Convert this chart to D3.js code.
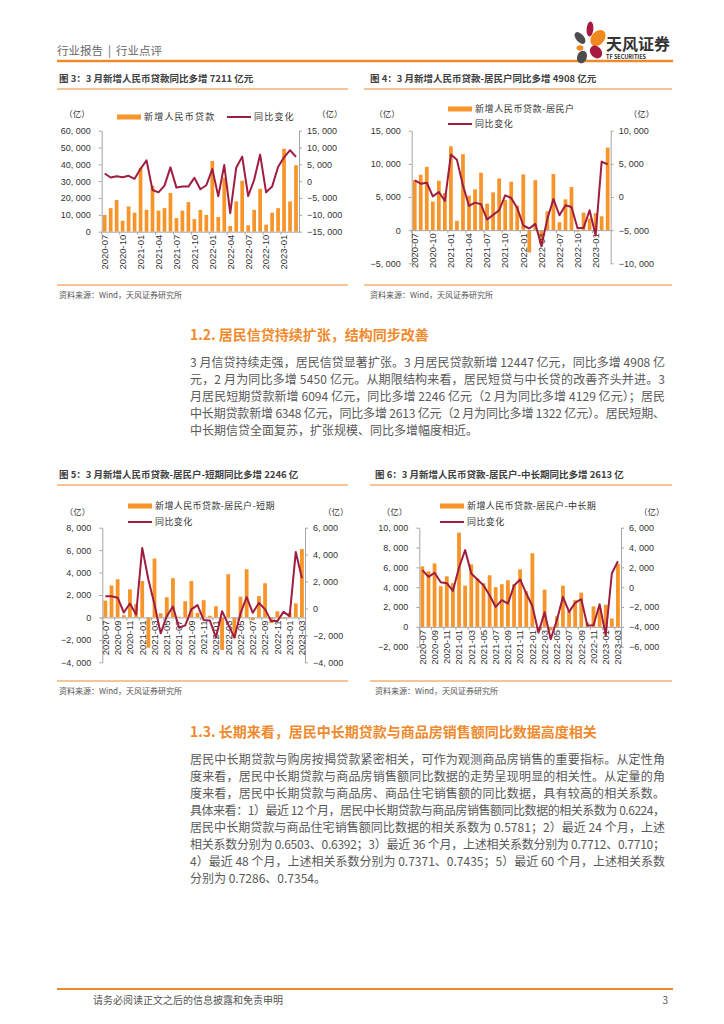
<!DOCTYPE html>
<html>
<head>
<meta charset="utf-8">
<script src="https://cdn.jsdelivr.net/npm/d3@7"></script>
<style>
  body { margin: 0; background: #fff; }
  svg { display: block; }
  text { font-family: "Noto Sans CJK SC", "Noto Sans", sans-serif; }
  .tick text { font-family: "Liberation Sans", Arial, sans-serif; }
</style>
</head>
<body>
<svg id="page" width="724" height="1024"></svg>
<script>
// ---- data ----
const months = ["2020-07","2020-08","2020-09","2020-10","2020-11","2020-12",
  "2021-01","2021-02","2021-03","2021-04","2021-05","2021-06","2021-07","2021-08","2021-09","2021-10","2021-11","2021-12",
  "2022-01","2022-02","2022-03","2022-04","2022-05","2022-06","2022-07","2022-08","2022-09","2022-10","2022-11","2022-12",
  "2023-01","2023-02","2023-03"];
const labelsQ = ["2020-07","2020-10","2021-01","2021-04","2021-07","2021-10","2022-01","2022-04","2022-07","2022-10","2023-01"];
const labelsB = ["2020-07","2020-09","2020-11","2021-01","2021-03","2021-05","2021-07","2021-09","2021-11",
  "2022-01","2022-03","2022-05","2022-07","2022-09","2022-11","2023-01","2023-03"];

// 图3 新增人民币贷款 / 同比变化
const loansTotal = [9900, 14000, 18800, 6500, 15000, 11300, 38000, 13000, 27300, 12500, 14000, 23000, 8100, 12500, 17600, 7500, 12900, 10000,
  42000, 8700, 32000, 3400, 18000, 30300, 3800, 13000, 25500, 4200, 11300, 14000, 49300, 18000, 39500];
const loansTotalYoy = [2300, 1100, 1500, 1200, 1600, 700, 3700, 6200, -2600, -3300, -1300, 4100, -1900, -1600, -1600, 1000, -2400, -1200,
  3600, -4500, 4800, -9500, 4000, 7300, -4400, 400, 7900, -3300, -1600, 4200, 7100, 9200, 7211];

// 图4 居民户
const loansHh = [7550, 8350, 9550, 4300, 7450, 5600, 12650, 1400, 11450, 5200, 6150, 8650, 4000, 5700, 7800, 4550, 7300, 3700,
  8400, -3370, 7540, -2170, 2850, 8450, 1200, 4650, 6500, -200, 2650, 1750, 2570, 2090, 12447];
const loansHhYoy = [2500, 2000, 2150, 100, 750, -600, 6400, 5600, 1750, -1350, -850, -1100, -3400, -2700, -2000, 250, -150, -1650,
  -4300, -4750, -4050, -7400, -3300, -300, -2750, -1250, -1500, -4700, -4650, -2000, -5800, 5350, 4908];

// 图5 居民户-短期
const loansShort = [1500, 2850, 3400, 200, 2500, 1200, 3250, -2700, 5250, 370, 1800, 3500, 70, 1450, 3250, 400, 1540, 150,
  1000, -2900, 3850, -1840, 1850, 4300, -250, 1900, 3050, -500, 550, -100, 430, 1250, 6094];
const loansShortYoy = [900, 900, 800, -300, 370, -450, 4500, 2150, 300, -1850, -570, 150, -1430, -1260, -70, 250, -860, -890,
  -2170, -200, -1180, -2170, -370, 840, -320, 420, -70, -940, -940, -250, -570, 4200, 2246];

// 图6 居民户-中长期
const loansLong = [6100, 5600, 6400, 4100, 5100, 4400, 9500, 4150, 6300, 4900, 4400, 5200, 4000, 4300, 4700, 4300, 5800, 3600,
  7424, -460, 3750, -350, 1070, 4150, 1550, 2700, 3450, 430, 2070, 1900, 2230, 850, 6348];
const loansLongYoy = [1720, 1040, 1450, 500, 400, -370, 1990, 3740, 1380, 780, 200, -810, -1990, -1310, -1650, 170, 780, -640,
  -1890, -4580, -2530, -5250, -3330, -980, -2490, -1580, -1210, -3870, -3840, -1720, -4850, 1380, 2613];

const ORANGE = "#F7952B";
const RED = "#9E1D40";
const RULE = "#EF8A2C";
const AXIS = "#A6A6A6";

const svg = d3.select("#page");
const fmt = (d) => d3.format(",")(d).replace(",", ", ");

// ---- page header ----
const head = svg.append("g").attr("font-size", 11.5).attr("fill", "#666");
head.append("text").attr("x", 57).attr("y", 55).text("行业报告");
head.append("text").attr("x", 108).attr("y", 55).text("|");
head.append("text").attr("x", 116).attr("y", 55).text("行业点评");
svg.append("line").attr("x1", 57).attr("x2", 673).attr("y1", 61).attr("y2", 61)
  .attr("stroke", RULE).attr("stroke-width", 2.5);

// logo
const logo = svg.append("g");
const petals = [
  { cx: 590, cy: 29, rx: 3.4, ry: 7.5, r: 5, c: "#A8193F" },
  { cx: 580, cy: 38, rx: 4, ry: 7, r: -40, c: "#4D4D4F" },
  { cx: 598, cy: 38, rx: 6.5, ry: 9, r: 40, c: "#F08A1E" },
  { cx: 580, cy: 48, rx: 3.4, ry: 2.8, r: 0, c: "#F08A1E" },
  { cx: 596, cy: 52, rx: 5.5, ry: 7, r: -40, c: "#A8193F" },
  { cx: 582, cy: 57, rx: 4.8, ry: 6.5, r: 20, c: "#4D4D4F" }
];
logo.selectAll("ellipse").data(petals).join("ellipse")
  .attr("cx", (d) => d.cx).attr("cy", (d) => d.cy).attr("rx", (d) => d.rx).attr("ry", (d) => d.ry)
  .attr("transform", (d) => `rotate(${d.r},${d.cx},${d.cy})`).attr("fill", (d) => d.c);
logo.append("text").attr("x", 606).attr("y", 50).attr("font-size", 16).attr("font-weight", "bold")
  .attr("fill", "#333").text("天风证券");
logo.append("text").attr("x", 606).attr("y", 59).attr("font-size", 5.5).attr("font-weight", "bold")
  .attr("fill", "#333").attr("font-family", "Liberation Sans").text("TF SECURITIES");

// ---- chart drawing ----
function drawChart(c) {
  const g = svg.append("g");

  // title + rules + source
  g.append("text").attr("x", c.titleX).attr("y", c.titleY).attr("dy", "0.35em")
    .attr("font-size", 9.5).attr("font-weight", "bold").attr("fill", "#404040").text(c.title);
  g.append("line").attr("x1", c.ruleX0).attr("x2", c.ruleX1).attr("y1", c.titleY + 10).attr("y2", c.titleY + 10)
    .attr("stroke", RULE).attr("stroke-width", 1.2);
  g.append("line").attr("x1", c.ruleX0).attr("x2", c.ruleX1).attr("y1", c.srcY - 10).attr("y2", c.srcY - 10)
    .attr("stroke", RULE).attr("stroke-width", 1.2);
  g.append("text").attr("x", c.titleX).attr("y", c.srcY).attr("dy", "0.35em")
    .attr("font-size", 8).attr("fill", "#555").text("资料来源：Wind，天风证券研究所");

  const x = d3.scaleBand().domain(months).range([c.x0, c.x1]).paddingInner(0.38).paddingOuter(0.19);
  const yL = d3.scaleLinear().domain(c.leftDomain).range([c.yBot, c.yTop]);
  const yR = d3.scaleLinear().domain(c.rightDomain).range([c.yBot, c.yTop]);
  const y0 = yL(0);

  g.selectAll("rect.bar").data(c.bars).join("rect").attr("class", "bar")
    .attr("x", (d, i) => x(months[i])).attr("width", x.bandwidth())
    .attr("y", (d) => yL(Math.max(0, d))).attr("height", (d) => Math.abs(yL(d) - y0))
    .attr("fill", ORANGE);

  const styleAxis = (sel) => {
    sel.select(".domain").attr("stroke", AXIS);
    sel.selectAll(".tick line").attr("stroke", AXIS);
    sel.selectAll(".tick text").attr("fill", "#333").attr("font-size", 9);
  };

  g.append("g").attr("transform", `translate(${c.x0},0)`)
    .call(d3.axisLeft(yL).tickValues(c.leftTicks).tickSize(3).tickSizeOuter(0).tickPadding(8).tickFormat(fmt))
    .call(styleAxis);
  g.append("g").attr("transform", `translate(${c.x1},0)`)
    .call(d3.axisRight(yR).tickValues(c.rightTicks).tickSize(3).tickSizeOuter(0).tickPadding(5).tickFormat(fmt))
    .call(styleAxis);

  const xa = g.append("g").attr("transform", `translate(0,${y0})`)
    .call(d3.axisBottom(x).tickValues(c.labels).tickSize(0).tickSizeOuter(0))
    .call(styleAxis);
  xa.selectAll(".tick text").attr("transform", "rotate(-90)").attr("text-anchor", "end")
    .attr("x", -3).attr("y", 0).attr("dy", "0.35em").attr("font-size", 9.5);
  const gap = (x.step() - x.bandwidth()) / 2;
  g.selectAll("line.xt").data(c.labels).join("line").attr("class", "xt")
    .attr("x1", (d) => x(d) - gap).attr("x2", (d) => x(d) - gap)
    .attr("y1", y0).attr("y2", y0 + 3).attr("stroke", AXIS);

  const line = d3.line().x((d, i) => x(months[i]) + x.bandwidth() / 2).y((d) => yR(d));
  g.append("path").datum(c.yoy).attr("d", line).attr("fill", "none")
    .attr("stroke", RED).attr("stroke-width", 2).attr("stroke-linejoin", "round");

  // unit labels
  g.append("text").attr("x", c.x0 - 12).attr("y", c.unitY).attr("dy", "0.35em").attr("text-anchor", "end")
    .attr("font-size", 8.5).attr("fill", "#333").text("（亿）");
  g.append("text").attr("x", c.x1 + 18).attr("y", c.unitY).attr("dy", "0.35em")
    .attr("font-size", 8.5).attr("fill", "#333").text("（亿）");

  // legend
  const L = c.legend;
  g.append("rect").attr("x", L.bx).attr("y", L.by - 2.5).attr("width", 24).attr("height", 5).attr("fill", ORANGE);
  g.append("text").attr("x", L.bx + 27).attr("y", L.by).attr("dy", "0.35em").attr("font-size", 9)
    .attr("letter-spacing", L.ls).attr("fill", "#333").text(c.barName);
  g.append("line").attr("x1", L.lx).attr("x2", L.lx + 24).attr("y1", L.ly).attr("y2", L.ly)
    .attr("stroke", RED).attr("stroke-width", 2);
  g.append("text").attr("x", L.lx + 27).attr("y", L.ly).attr("dy", "0.35em").attr("font-size", 9)
    .attr("letter-spacing", L.ls).attr("fill", "#333").text("同比变化");
}

drawChart({
  title: "图 3：3 月新增人民币贷款同比多增 7211 亿元", titleX: 59, titleY: 79, ruleX0: 57, ruleX1: 348, srcY: 295,
  x0: 101.7, x1: 299, yTop: 130.7, yBot: 231.7, unitY: 114,
  leftDomain: [0, 60000], leftTicks: [0, 10000, 20000, 30000, 40000, 50000, 60000],
  rightDomain: [-15000, 15000], rightTicks: [-15000, -10000, -5000, 0, 5000, 10000, 15000],
  labels: labelsQ, bars: loansTotal, yoy: loansTotalYoy, barName: "新增人民币贷款",
  legend: { bx: 117, by: 117, lx: 227, ly: 117, ls: 1.2 }
});
drawChart({
  title: "图 4：3 月新增人民币贷款-居民户同比多增 4908 亿元", titleX: 370, titleY: 79, ruleX0: 364, ruleX1: 672, srcY: 295,
  x0: 411.7, x1: 610.7, yTop: 130.7, yBot: 263.3, unitY: 114,
  leftDomain: [-5000, 15000], leftTicks: [-5000, 0, 5000, 10000, 15000],
  rightDomain: [-10000, 10000], rightTicks: [-10000, -5000, 0, 5000, 10000],
  labels: labelsQ, bars: loansHh, yoy: loansHhYoy, barName: "新增人民币贷款-居民户",
  legend: { bx: 448, by: 109, lx: 448, ly: 124, ls: 0.6 }
});
drawChart({
  title: "图 5：3 月新增人民币贷款-居民户-短期同比多增 2246 亿", titleX: 59, titleY: 475, ruleX0: 57, ruleX1: 348, srcY: 691,
  x0: 102.3, x1: 305, yTop: 527.7, yBot: 662.3, unitY: 511.7,
  leftDomain: [-4000, 8000], leftTicks: [-4000, -2000, 0, 2000, 4000, 6000, 8000],
  rightDomain: [-4000, 6000], rightTicks: [-4000, -2000, 0, 2000, 4000, 6000],
  labels: labelsB, bars: loansShort, yoy: loansShortYoy, barName: "新增人民币贷款-居民户-短期",
  legend: { bx: 128, by: 506, lx: 128, ly: 522, ls: 0.4 }
});
drawChart({
  title: "图 6：3 月新增人民币贷款-居民户-中长期同比多增 2613 亿", titleX: 375, titleY: 475, ruleX0: 370, ruleX1: 672, srcY: 691,
  x0: 419.3, x1: 621, yTop: 527.7, yBot: 646.7, unitY: 511.7,
  leftDomain: [-2000, 10000], leftTicks: [-2000, 0, 2000, 4000, 6000, 8000, 10000],
  rightDomain: [-6000, 6000], rightTicks: [-6000, -4000, -2000, 0, 2000, 4000, 6000],
  labels: labelsB, bars: loansLong, yoy: loansLongYoy, barName: "新增人民币贷款-居民户-中长期",
  legend: { bx: 440, by: 506, lx: 440, ly: 522, ls: 0.4 }
});

// ---- body text ----
const heading12 = "1.2. 居民信贷持续扩张，结构同步改善";
const para12 = [
  "3 月信贷持续走强，居民信贷显著扩张。3 月居民贷款新增 12447 亿元，同比多增 4908 亿",
  "元，2 月为同比多增 5450 亿元。从期限结构来看，居民短贷与中长贷的改善齐头并进。3",
  "月居民短期贷款新增 6094 亿元，同比多增 2246 亿元（2 月为同比多增 4129 亿元）；居民",
  "中长期贷款新增 6348 亿元，同比多增 2613 亿元（2 月为同比多增 1322 亿元）。居民短期、",
  "中长期信贷全面复苏，扩张规模、同比多增幅度相近。"
];
const heading13 = "1.3. 长期来看，居民中长期贷款与商品房销售额同比数据高度相关";
const para13 = [
  "居民中长期贷款与购房按揭贷款紧密相关，可作为观测商品房销售的重要指标。从定性角",
  "度来看，居民中长期贷款与商品房销售额同比数据的走势呈现明显的相关性。从定量的角",
  "度来看，居民中长期贷款与商品房、商品住宅销售额的同比数据，具有较高的相关系数。",
  "具体来看：1）最近 12 个月，居民中长期贷款与商品房销售额同比数据的相关系数为 0.6224，",
  "居民中长期贷款与商品住宅销售额同比数据的相关系数为 0.5781；2）最近 24 个月，上述",
  "相关系数分别为 0.6503、0.6392；3）最近 36 个月，上述相关系数分别为 0.7712、0.7710；",
  "4）最近 48 个月，上述相关系数分别为 0.7371、0.7435；5）最近 60 个月，上述相关系数",
  "分别为 0.7286、0.7354。"
];

function drawSection(heading, lines, headY, firstY) {
  svg.append("text").attr("x", 190).attr("y", headY).attr("dy", "0.35em")
    .attr("font-size", 14).attr("font-weight", "bold").attr("fill", "#F08A2C").text(heading);
  svg.selectAll(null).data(lines).join("text")
    .attr("x", 190).attr("y", (d, i) => firstY + i * 17.1).attr("dy", "0.35em")
    .attr("font-size", 12).attr("fill", "#595959")
    .attr("textLength", (d, i) => (i < lines.length - 1 ? 475 : null))
    .attr("lengthAdjust", "spacing")
    .text((d) => d);
}
drawSection(heading12, para12, 335, 362.7);
drawSection(heading13, para13, 731.7, 759.3);

// ---- footer ----
svg.append("line").attr("x1", 57).attr("x2", 673).attr("y1", 989).attr("y2", 989)
  .attr("stroke", RULE).attr("stroke-width", 2);
svg.append("text").attr("x", 93).attr("y", 1000).attr("dy", "0.35em").attr("font-size", 10)
  .attr("fill", "#555").text("请务必阅读正文之后的信息披露和免责申明");
svg.append("text").attr("x", 668).attr("y", 1000).attr("dy", "0.35em").attr("font-size", 10)
  .attr("text-anchor", "end").attr("fill", "#555").text("3");
</script>
</body>
</html>
